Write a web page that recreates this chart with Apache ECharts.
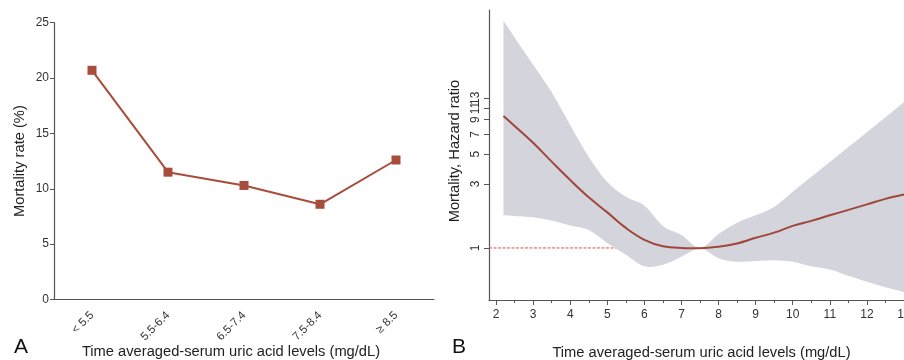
<!DOCTYPE html>
<html>
<head>
<meta charset="utf-8">
<script src="https://cdn.jsdelivr.net/npm/echarts@6/dist/echarts.min.js"></script>
<style>
  html, body { margin: 0; padding: 0; background: #fff; }
  #chart { width: 904px; height: 360px; }
</style>
</head>
<body>
<div id="chart"></div>
<script>
// panel A: mortality rate by uric acid group
const groups = ['< 5.5', '5.5-6.4', '6.5-7.4', '7.5-8.4', '≥ 8.5'];
const mortality = [20.7, 11.5, 10.3, 8.6, 12.6];

// panel B: hazard ratio spline with 95% CI
const uaLevels = [2.2, 2.5, 3, 3.5, 4, 4.5, 5, 5.5, 6, 6.5, 7, 7.5, 8, 8.5, 9, 9.5, 10, 10.5, 11, 11.5, 12, 12.5, 13];
const hr =      [9.6, 8.1, 6.06, 4.39, 3.2, 2.38, 1.84, 1.41, 1.15, 1.03, 1.0, 0.995, 1.02, 1.08, 1.19, 1.3, 1.46, 1.59, 1.75, 1.92, 2.11, 2.32, 2.5];
const hrLower = [1.76, 1.73, 1.69, 1.6, 1.47, 1.36, 1.09, 0.89, 0.73, 0.75, 0.86, 0.99, 0.84, 0.79, 0.8, 0.81, 0.79, 0.73, 0.69, 0.62, 0.56, 0.51, 0.47];
const hrUpper = [49, 36.9, 23.1, 14.4, 8.2, 4.76, 3.1, 2.4, 2.06, 1.46, 1.25, 1.0, 1.27, 1.54, 1.75, 2.02, 2.62, 3.39, 4.37, 5.63, 7.26, 9.38, 12.2];
const hrTicks = [1, 3, 5, 7, 9, 11, 13];
const uaTicks = [2, 3, 4, 5, 6, 7, 8, 9, 10, 11, 12, 13];
const uaMinorTicks = [2.5, 3.5, 4.5, 5.5, 6.5, 7.5, 8.5, 9.5, 10.5, 11.5, 12.5];
const uaMin = 1.81, uaMax = 13;
const hrMin = 0.41, hrMax = 59;
const refHr = 1;

const FONT = 'Liberation Sans';
const TXT = '#333';
const AXIS = '#555';

const chart = echarts.init(document.getElementById('chart'), null, { renderer: 'canvas' });

// smooth path through pixel points (catmull-rom -> bezier)
function splineCmds(pts, first) {
  let d = first ? 'M' + pts[0][0] + ' ' + pts[0][1] : ' L' + pts[0][0] + ' ' + pts[0][1];
  for (let i = 0; i < pts.length - 1; i++) {
    const p0 = pts[Math.max(i - 1, 0)], p1 = pts[i], p2 = pts[i + 1], p3 = pts[Math.min(i + 2, pts.length - 1)];
    const c1 = [p1[0] + (p2[0] - p0[0]) / 6, p1[1] + (p2[1] - p0[1]) / 6];
    const c2 = [p2[0] - (p3[0] - p1[0]) / 6, p2[1] - (p3[1] - p1[1]) / 6];
    d += ' C' + c1[0] + ' ' + c1[1] + ' ' + c2[0] + ' ' + c2[1] + ' ' + p2[0] + ' ' + p2[1];
  }
  return d;
}

function renderBand(params, api) {
  if (params.dataIndex !== 0) return null;
  const up = uaLevels.map((x, i) => api.coord([x, hrUpper[i]]));
  const lo = uaLevels.map((x, i) => api.coord([x, hrLower[i]])).reverse();
  return {
    type: 'path',
    shape: { pathData: splineCmds(up, true) + splineCmds(lo, false) + ' Z' },
    style: { fill: '#d3d4dc', stroke: null }
  };
}

// hr tick labels are split over two axes so the crowded 9/11/13 all stay visible
const hrLabelsA = hrTicks.filter(v => v !== 11);
const hrLabelsB = [11];

chart.setOption({
  animation: false,
  textStyle: { fontFamily: FONT },
  grid: [
    { left: 54, top: 22.7, width: 380, height: 276.8, outerBoundsMode: 'none' },
    { left: 489, top: 10, width: 415, height: 290, outerBoundsMode: 'none' }
  ],
  xAxis: [
    {
      gridIndex: 0, type: 'category', data: groups, boundaryGap: true,
      axisLine: { lineStyle: { color: AXIS, width: 1.2 } },
      axisTick: { alignWithLabel: true, length: 5, lineStyle: { color: AXIS } },
      axisLabel: { rotate: 45, color: TXT, fontSize: 11.5, margin: 14 },
      name: 'Time averaged-serum uric acid levels (mg/dL)', nameLocation: 'middle', nameGap: 45,
      nameMoveOverlap: false,
      nameTextStyle: { color: '#222', fontSize: 14.7, padding: [0, 26, 0, 0] }
    },
    {
      gridIndex: 1, type: 'value', min: uaMin, max: uaMax,
      axisLine: { onZero: false, lineStyle: { color: AXIS, width: 1.2 } },
      axisTick: { customValues: uaTicks, length: 5, lineStyle: { color: AXIS } },
      axisLabel: { customValues: uaTicks, color: TXT, fontSize: 12, margin: 9, showMaxLabel: true },
      splitLine: { show: false },
      name: 'Time averaged-serum uric acid levels (mg/dL)', nameLocation: 'middle', nameGap: 45,
      nameMoveOverlap: false,
      nameTextStyle: { color: '#222', fontSize: 14.7, padding: [0, 0, 0, 10] }
    },
    {
      gridIndex: 1, type: 'value', min: uaMin, max: uaMax, position: 'bottom',
      axisLine: { show: false },
      axisTick: { customValues: uaMinorTicks, length: 3, lineStyle: { color: AXIS } },
      axisLabel: { show: false },
      splitLine: { show: false }
    }
  ],
  yAxis: [
    {
      gridIndex: 0, type: 'value', min: 0, max: 25, interval: 5,
      axisLine: { show: true, lineStyle: { color: AXIS, width: 1.2 } },
      axisTick: { show: true, length: 4, lineStyle: { color: AXIS } },
      axisLabel: { color: TXT, fontSize: 12, margin: 5 },
      splitLine: { show: false },
      name: 'Mortality rate (%)', nameLocation: 'middle', nameGap: 27,
      nameTextStyle: { color: '#222', fontSize: 14.7 }
    },
    {
      gridIndex: 1, type: 'log', logBase: 10, min: hrMin, max: hrMax,
      axisLine: { show: true, onZero: false, lineStyle: { color: AXIS, width: 1.2 } },
      axisTick: { show: true, customValues: hrTicks, length: 5, lineStyle: { color: AXIS } },
      axisLabel: { customValues: hrLabelsA, rotate: 90, color: TXT, fontSize: 12, margin: 7,
                   showMaxLabel: true, showMinLabel: true },
      splitLine: { show: false },
      name: 'Mortality, Hazard ratio', nameLocation: 'middle', nameGap: 27,
      nameTextStyle: { color: '#222', fontSize: 14.7, padding: [0, 0, 0, 8] }
    },
    {
      gridIndex: 1, type: 'log', logBase: 10, min: hrMin, max: hrMax, position: 'left',
      axisLine: { show: false, onZero: false },
      axisTick: { show: false },
      axisLabel: { customValues: hrLabelsB, rotate: 90, color: TXT, fontSize: 12, margin: 7,
                   showMaxLabel: true, showMinLabel: true },
      splitLine: { show: false }
    }
  ],
  series: [
    {
      type: 'line', xAxisIndex: 0, yAxisIndex: 0, data: mortality,
      symbol: 'rect', symbolSize: 9,
      lineStyle: { color: '#a84c3c', width: 2 },
      itemStyle: { color: '#a84c3c' }
    },
    {
      type: 'line', xAxisIndex: 1, yAxisIndex: 1, z: 1,
      data: [[uaMin, refHr], [uaMax, refHr]],
      symbol: 'none',
      lineStyle: { color: '#e2543f', width: 1, type: [3, 1.5] }
    },
    {
      type: 'custom', xAxisIndex: 1, yAxisIndex: 1, z: 2,
      data: uaLevels.map((x, i) => [x, hrLower[i], hrUpper[i]]),
      encode: { x: 0, y: [1, 2] },
      renderItem: renderBand
    },
    {
      type: 'line', xAxisIndex: 1, yAxisIndex: 1, z: 3,
      data: uaLevels.map((x, i) => [x, hr[i]]),
      symbol: 'none', smooth: 0.4,
      lineStyle: { color: '#a0463a', width: 2 }
    }
  ],
  graphic: [
    { type: 'text', left: 14, top: 337, style: { text: 'A', font: '21px "Liberation Sans"', fill: '#111' } },
    { type: 'text', left: 452, top: 337, style: { text: 'B', font: '21px "Liberation Sans"', fill: '#111' } }
  ]
});
</script>
</body>
</html>
